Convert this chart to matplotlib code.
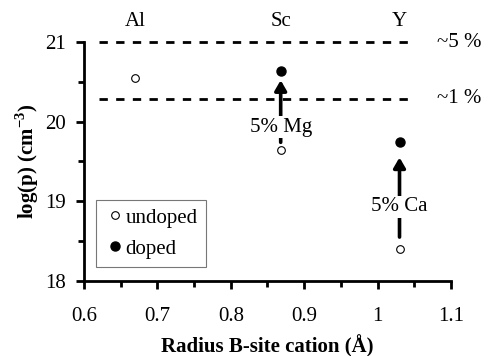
import matplotlib
matplotlib.use("Agg")
import matplotlib.pyplot as plt
from matplotlib.ticker import MultipleLocator

plt.rcParams['font.family'] = ['Liberation Serif', 'DejaVu Serif']
plt.rcParams['mathtext.fontset'] = 'custom'
plt.rcParams['mathtext.rm'] = 'Liberation Serif'
plt.rcParams['mathtext.bf'] = 'Liberation Serif:bold'

# B-site cation radius (Å) and log hole concentration
cations = ["Al", "Sc", "Y"]
radius = [0.67, 0.868, 1.03]
logp_undoped = [20.55, 19.64, 18.40]
doped_radius = [0.868, 1.03]
logp_doped = [20.64, 19.74]
dopant_labels = ["5% Mg", "5% Ca"]
arrow_start = [19.74, 18.55]
arrow_end = [20.52, 19.55]
label_y = [19.93, 18.93]
ref_levels = [21.0, 20.29]
ref_labels = ["~5 %", "~1 %"]

FS = 15

fig = plt.figure(figsize=(4.89, 3.56), dpi=100)
ax = fig.add_axes([0.172, 0.211, 0.750, 0.671])

ax.plot(radius, logp_undoped, 'o', ms=5.5, mfc='white', mec='black', mew=0.8,
        ls='none', label='undoped', zorder=5)
ax.plot(doped_radius, logp_doped, 'o', ms=6.5, mfc='black', mec='black',
        ls='none', label='doped', zorder=5)

for lvl, lab in zip(ref_levels, ref_labels):
    ax.plot([0.62, 1.05], [lvl, lvl], color='black', lw=2, ls=(0, (3, 3)),
            clip_on=False, zorder=3)
    ax.text(1.081, lvl, lab, fontsize=FS, ha='left', va='center', clip_on=False)

for x, y0, y1, ty, lab in zip(doped_radius, arrow_start, arrow_end, label_y, dopant_labels):
    ax.annotate('', xy=(x, y1), xytext=(x, y0),
                arrowprops=dict(arrowstyle='-|>,head_length=0.6,head_width=0.35',
                                lw=2.6, color='black', shrinkA=0, shrinkB=0),
                zorder=4)
    ax.text(x, ty, lab, fontsize=FS, ha='center', va='center', zorder=6,
            bbox=dict(facecolor='white', edgecolor='none', pad=1.0))

for x, lab in zip(radius, cations):
    ax.text(x, 21.26, lab, fontsize=FS, ha='center', va='center', clip_on=False)

ax.set_xlim(0.6, 1.1)
ax.set_ylim(18, 21)
ax.xaxis.set_minor_locator(MultipleLocator(0.05))
ax.yaxis.set_minor_locator(MultipleLocator(0.5))
ax.set_xticks([0.6, 0.7, 0.8, 0.9, 1.0, 1.1])
ax.set_xticklabels(['0.6', '0.7', '0.8', '0.9', '1', '1.1'])
ax.set_yticks([18, 19, 20, 21])
ax.set_yticklabels(['18', '19', '20', '21'])

for side in ['top', 'right']:
    ax.spines[side].set_visible(False)
for side in ['left', 'bottom']:
    ax.spines[side].set_linewidth(2)
ax.tick_params(which='major', direction='out', length=6, width=2, labelsize=FS)
ax.tick_params(axis='x', which='major', pad=13)
ax.tick_params(axis='y', which='major', pad=7)
ax.tick_params(which='minor', direction='out', length=4, width=2)

ax.set_xlabel('Radius B-site cation (Å)', fontsize=FS, fontweight='bold', labelpad=6)
ax.set_ylabel(r'log(p) (cm$^{\mathbf{-3}}$)', fontsize=FS, fontweight='bold', labelpad=3)

leg = ax.legend(loc='upper left', bbox_to_anchor=(0.033, 0.34), fontsize=FS,
                frameon=True, fancybox=False, edgecolor='#555555',
                handletextpad=0.0, handlelength=1.0, borderpad=0.4,
                labelspacing=0.55, borderaxespad=0)
leg.get_frame().set_linewidth(0.8)

fig.savefig('out.png', dpi=100)
